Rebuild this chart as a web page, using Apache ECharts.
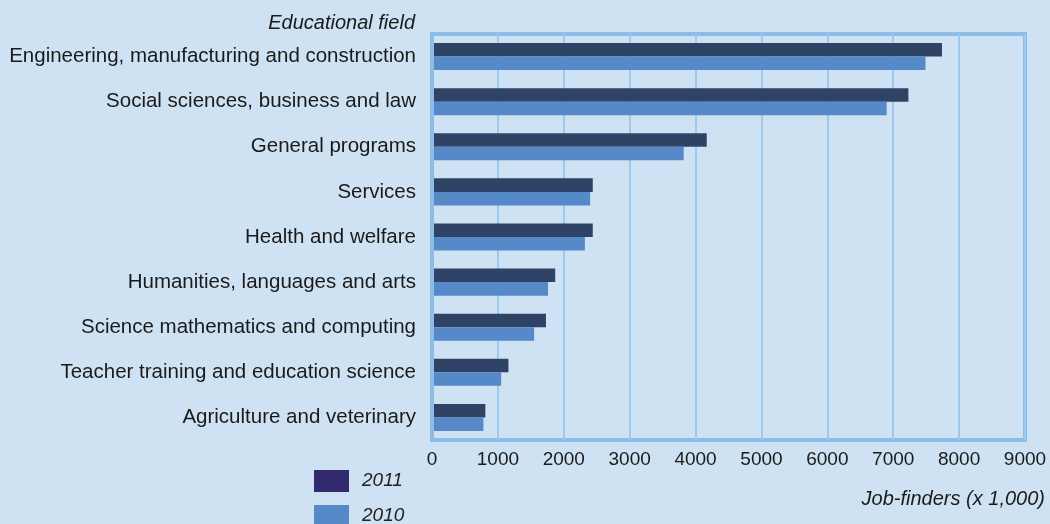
<!DOCTYPE html>
<html>
<head>
<meta charset="utf-8">
<script src="https://cdn.jsdelivr.net/npm/echarts@6/dist/echarts.min.js"></script>
<style>
  html, body { margin: 0; padding: 0; background: #cfe2f3; }
  #chart { width: 1050px; height: 524px; }
</style>
</head>
<body>
<div id="chart"></div>
<script>
// educational fields, top to bottom
const fields = [
  'Engineering, manufacturing and construction',
  'Social sciences, business and law',
  'General programs',
  'Services',
  'Health and welfare',
  'Humanities, languages and arts',
  'Science mathematics and computing',
  'Teacher training and education science',
  'Agriculture and veterinary'
];
// job-finders (x 1,000)
const values2011 = [7740, 7230, 4170, 2440, 2440, 1870, 1730, 1160, 810];
const values2010 = [7490, 6900, 3820, 2400, 2320, 1760, 1550, 1050, 780];
const xTicks = [0, 1000, 2000, 3000, 4000, 5000, 6000, 7000, 8000, 9000];

const borderColor = '#8bbde6';
const font = '"Liberation Sans", Arial, sans-serif';
const textColor = '#1a1a1a';

// one legend per year so the vertical list does not wrap at the bottom edge
function legendItem(name, color, top) {
  return {
    orient: 'vertical',
    left: 314,
    top: top,
    padding: 0,
    itemWidth: 35,
    itemHeight: 22,
    selectedMode: false,
    textStyle: { fontFamily: font, fontSize: 19, fontStyle: 'italic', color: '#222', padding: [0, 0, 0, 8] },
    data: [{ name: name, icon: 'rect', itemStyle: { color: color } }]
  };
}

const chart = echarts.init(document.getElementById('chart'));
chart.setOption({
  backgroundColor: '#cfe2f3',
  animation: false,
  title: [
    {
      text: 'Educational field',
      right: 635,
      top: 13,
      padding: 0,
      textStyle: { fontFamily: font, fontSize: 20, fontStyle: 'italic', fontWeight: 'normal', color: textColor }
    },
    {
      text: 'Job-finders (x 1,000)',
      right: 5,
      top: 489,
      padding: 0,
      textStyle: { fontFamily: font, fontSize: 20, fontStyle: 'italic', fontWeight: 'normal', color: textColor }
    }
  ],
  legend: [
    legendItem('2011', '#33296e', 470),
    legendItem('2010', '#5589c8', 505)
  ],
  grid: {
    left: 432,
    right: 25,
    top: 34,
    bottom: 84,
    show: true,
    borderColor: borderColor,
    borderWidth: 4,
    backgroundColor: 'transparent'
  },
  xAxis: {
    type: 'value',
    min: xTicks[0],
    max: xTicks[xTicks.length - 1],
    interval: 1000,
    axisLine: { show: false },
    axisTick: { show: false },
    axisLabel: {
      fontFamily: font,
      fontSize: 19,
      color: textColor,
      margin: 10,
      formatter: v => String(v)
    },
    splitLine: { show: true, lineStyle: { color: '#9ccaee', width: 2 } }
  },
  yAxis: {
    type: 'category',
    data: fields,
    inverse: true,
    z: 3,
    axisLine: { show: true, lineStyle: { color: borderColor, width: 4 } },
    axisTick: { show: false },
    axisLabel: { fontFamily: font, fontSize: 20.5, color: textColor, margin: 16 },
    splitLine: { show: false }
  },
  series: [
    {
      name: '2011',
      type: 'bar',
      data: values2011,
      barGap: '0%',
      barCategoryGap: '40%',
      itemStyle: { color: '#2e4366' }
    },
    {
      name: '2010',
      type: 'bar',
      data: values2010,
      itemStyle: { color: '#5589c8' }
    }
  ]
});
</script>
</body>
</html>
